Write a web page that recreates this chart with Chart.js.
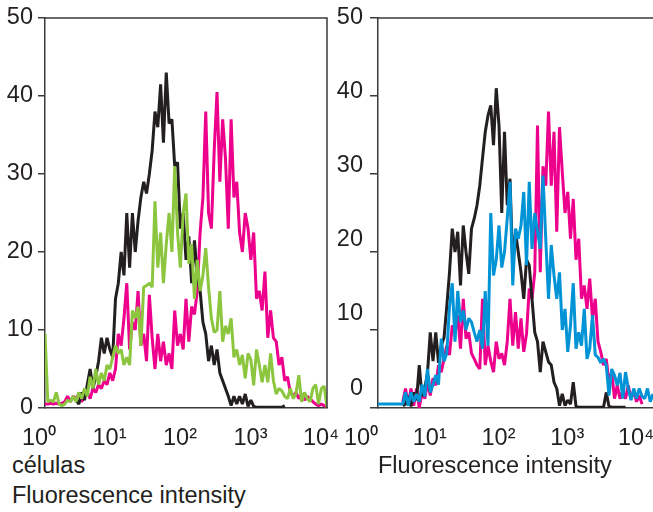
<!DOCTYPE html>
<html>
<head>
<meta charset="utf-8">
<script src="https://cdn.jsdelivr.net/npm/chart.js@4.4.1/dist/chart.umd.min.js"></script>
<style>
  html, body { margin: 0; padding: 0; background: #fff; }
  body { width: 653px; height: 512px; position: relative; overflow: hidden;
         font-family: "Liberation Sans", Arial, sans-serif; color: #231f20; }
  .panel { position: absolute; top: 0; height: 445px; }
  .caption { position: absolute; font-size: 23.5px; line-height: 30px; white-space: nowrap; }
</style>
</head>
<body>
<div class="panel" style="left:0;width:352px"><canvas id="leftChart"></canvas></div>
<div class="panel" style="left:330px;width:323px"><canvas id="rightChart"></canvas></div>
<div class="caption" style="left:12px;top:450px">células<br>Fluorescence intensity</div>
<div class="caption" style="left:378px;top:450px">Fluorescence intensity</div>
<script>
// x axis: 100 channels, 25 per decade (10^0 .. 10^4)
const decadeLabels = ['10\u2070', '10\u00b9', '10\u00b2', '10\u00b3', '10\u2074'];
const yTicks = [0, 10, 20, 30, 40, 50];

// left panel (counts per channel, first channel index in *Start)
const leftBlackStart = 11;
const leftBlack = [1, 0.5, 2, 1, 3, 5, 2.5, 4, 6, 9, 7, 9, 7.5, 6.5, 14, 16, 20, 17, 25, 18,
  25, 20, 24, 27, 29, 27.5, 30, 33, 38, 36, 41.5, 34, 43, 36.5, 37, 31, 31.5, 23, 25, 19,
  22, 16, 21.5, 17, 15, 11, 9.5, 6, 8, 5.5, 7.5, 4.5, 3.5, 2.5, 1.5, 0.3, 1.5, 0.5, 1.5, 0.5,
  1.8, 0.2, 1, 0.2, 0.1, 0.1, 0.1, 0.1, 0.1, 0.1, 0.1, 0.1, 0.1, 0.1, 0.3];
const leftPinkStart = 0;
const leftPink = [0.5, 0.5, 0.6, 0.5, 0.6, 0.5, 0.6, 0.8, 1.5, 0.8,
  1.5, 1.2, 1.8, 0.8, 1.5, 2, 1.2, 2.5, 2, 3,
  2.5, 3.5, 3, 4.5, 3.5, 5, 9.5, 8, 11.5, 16,
  7.5, 11, 10, 15, 8, 9.5, 6, 14.5, 9, 5,
  9.5, 6, 8.5, 5.5, 7, 5, 12.5, 8, 9.5, 7.5,
  14, 8.5, 13, 12, 15, 22.5, 27, 38, 25, 23,
  33, 40.5, 29, 37, 32, 23, 37, 27, 29, 22.5,
  20, 25, 23, 19, 22.5, 14, 15, 12.5, 17.5, 9,
  12.5, 9, 8.5, 5.5, 6.5, 3.5, 4, 2, 1.5, 2,
  1.2, 1.8, 1, 1.5, 1.2, 0.8, 0.5, 0.3, 0.5, 0.3, 0.2];
const leftGreenStart = 0;
const leftGreen = [9.5, 0.8, 1, 0.8, 2, 0.5, 0.3, 0.5, 1, 0.8,
  1.5, 0.8, 2, 1.2, 2.5, 1.5, 4, 2.5, 5, 3,
  4.5, 3.5, 5.5, 5, 6.5, 8, 7, 7.5, 5.5, 6.5,
  5.5, 12.5, 11.5, 13, 8, 15.5, 15.7, 16, 15.5, 26.5,
  18, 22.5, 16, 21, 25, 20, 31, 22.5, 18, 25,
  27.5, 18.5, 21, 14, 19, 15, 17, 20.5, 15.5, 11.5,
  9.7, 10, 15, 8.5, 10.5, 9.5, 11.5, 6.5, 7.5, 5.5,
  6.8, 3.8, 7, 6.2, 2.9, 7.5, 5.5, 3.3, 5.5, 3.3,
  7, 3.5, 1.8, 2.5, 2.2, 1.5, 1.2, 2.5, 1.2, 1.8,
  4.2, 0.8, 2, 1.2, 0.8, 2.5, 3, 0.5, 2.5, 2.8, 0.1];

// right panel
const rightBlackStart = 9;
const rightBlack = [0.3, 0.5, 1.5, 0.2, 2, 1, 5.5, 1.5, 2.5, 4.5,
  9.7, 6, 9.7, 5.8, 8, 9, 13, 17.4, 23, 20,
  22.6, 15.7, 23.4, 20, 17.2, 23, 24.3, 26, 28.5, 32,
  35.4, 37.5, 38.8, 33.7, 41, 36.2, 25, 35.4, 26, 29.4,
  18.3, 22.6, 20, 17.4, 14, 19, 18.3, 14, 9.7, 8.5,
  4.6, 8.5, 7.2, 5.9, 5.5, 3.3, 2.5, 0.3, 1.8, 0.3,
  1, 0.5, 3.3, 0.2, 0.1, 0.1, 0.1, 0.1, 0.1, 0.1,
  0.1, 0.1, 0.1, 0.1, 2, 0.2, 0.1, 0.1, 0.1, 0.1, 0.1, 0.1];
const rightPinkStart = 9;
const rightPink = [0.8, 2.5, 0.5, 2.5, 0.3, 2.5, 0, 2, 1.2, 3.3,
  1.6, 3.8, 2.9, 5.5, 4.6, 6.3, 8, 6.8, 10.6, 9.7,
  11.9, 7.6, 14, 8.9, 9.7, 7, 6.3, 5.5, 5, 14,
  5.5, 8, 6, 4.6, 8.5, 6.3, 7, 5.5, 8.5, 14,
  8, 12.3, 7.6, 11.5, 7.2, 9.5, 15.3, 14, 17.4, 36.2,
  17.4, 31, 28.5, 38, 28.5, 35.4, 22.6, 36, 30.3, 25,
  27.7, 21.7, 26.8, 19, 21.7, 14, 15.7, 12.7, 16.6, 11.5,
  14, 8.5, 7.2, 5.5, 6.3, 3.3, 4.6, 1.2, 2.9, 1.2,
  2.2, 1.2, 2.9, 1.2, 2.2, 0.8, 1.6, 0.5];
const rightBlueStart = 0;
const rightBlue = [0.5, 0.5, 0.5, 0.5, 0.5, 0.5, 0.5, 0.5, 0.5, 0.5,
  2, 0.3, 2, 0.8, 1.8, 0.8, 3, 1.5, 5, 2,
  3, 4.2, 3, 8.9, 6, 7, 13, 16, 8.5, 15,
  11, 12.5, 10, 11.5, 11, 9.7, 8.5, 10, 7.6, 15,
  8, 25, 17, 19, 23.4, 18, 20, 24.3, 29, 15.7,
  23, 21.7, 23.4, 27.7, 18.3, 29, 20.4, 25, 22.6, 20.4,
  29.8, 21.7, 14, 20.9, 17, 14, 17.4, 10, 12.7, 7.2,
  10.6, 16, 7.6, 9.7, 8, 12.7, 6.3, 7.6, 11.9, 6.8,
  6.5, 5.8, 6.3, 5.5, 1.6, 5, 4.2, 2.9, 4.5, 1.2,
  4.6, 2.5, 1, 2.5, 1.2, 2.5, 1.5, 1.2, 2.5, 0.8, 1.8];

const INK = '#231f20';
const AXIS = '#3a3a3a';
const FONT = { family: "'Liberation Sans', Arial, sans-serif", size: 23.5 };

function series(values, start, color) {
  return {
    data: values.map((v, k) => ({ x: start + k, y: v })),
    borderColor: color,
    borderWidth: 3,
    borderJoinStyle: 'bevel',
    pointRadius: 0,
    tension: 0,
    fill: false
  };
}

// fixed axis sizes so both plot areas land where the figure has them
function fixSize(w, h) {
  return s => {
    s.paddingLeft = s.paddingRight = s.paddingTop = s.paddingBottom = 0;
    if (w != null) s.width = w;
    if (h != null) s.height = h;
  };
}

// frame lines on top/right of the plot area
const framePlugin = {
  id: 'frame',
  afterDatasetsDraw(chart, args, opts) {
    const { ctx, chartArea: a } = chart;
    ctx.save();
    ctx.strokeStyle = AXIS;
    ctx.lineWidth = 1.5;
    ctx.beginPath();
    ctx.moveTo(a.left, a.top);
    ctx.lineTo(a.right, a.top);
    if (opts.right) ctx.lineTo(a.right, a.bottom);
    ctx.stroke();
    ctx.restore();
  }
};

function xAxis(labelOffset) {
  return {
    type: 'linear', min: 0, max: 100,
    grid: { display: false },
    border: { display: true, color: AXIS, width: 1.5 },
    ticks: {
      stepSize: 25, font: FONT, color: INK, padding: 8, labelOffset: labelOffset,
      maxRotation: 0, autoSkip: false,
      callback: v => decadeLabels[v / 25]
    },
    afterBuildTicks: s => { s.ticks = [0, 25, 50, 75, 100].map(v => ({ value: v })); },
    afterFit: fixSize(null, 37)
  };
}

function yGrid(len) {
  return { display: true, drawOnChartArea: false, drawTicks: true, tickLength: len,
           color: AXIS, lineWidth: 1.5 };
}

Chart.register(framePlugin);

new Chart(document.getElementById('leftChart'), {
  type: 'line',
  data: {
    datasets: [
      series(leftGreen, leftGreenStart, '#8cc63f'),
      series(leftBlack, leftBlackStart, INK),
      series(leftPink, leftPinkStart, '#ec008c')
    ]
  },
  options: {
    responsive: true, maintainAspectRatio: false, animation: false,
    layout: { padding: { top: 18, right: 25, left: 0, bottom: 0 } },
    plugins: { legend: { display: false }, tooltip: { enabled: false }, frame: { right: true } },
    scales: {
      x: xAxis(-6),
      y: {
        min: 0, max: 50,
        grid: yGrid(7),
        border: { display: true, color: AXIS, width: 1.5 },
        ticks: { stepSize: 10, font: FONT, color: INK, padding: 5 },
        afterBuildTicks: s => { s.ticks = yTicks.map(v => ({ value: v })); },
        afterFit: fixSize(45, null)
      }
    }
  }
});

new Chart(document.getElementById('rightChart'), {
  type: 'line',
  data: {
    datasets: [
      series(rightBlue, rightBlueStart, '#0093d6'),
      series(rightBlack, rightBlackStart, INK),
      series(rightPink, rightPinkStart, '#ec008c')
    ]
  },
  options: {
    responsive: true, maintainAspectRatio: false, animation: false,
    layout: { padding: { top: 18, right: 0, left: 0, bottom: 0 } },
    plugins: { legend: { display: false }, tooltip: { enabled: false }, frame: { right: false } },
    scales: {
      x: xAxis(-17),
      y: {
        min: 0, max: 50, weight: 0,
        grid: yGrid(8),
        border: { display: true, color: AXIS, width: 1.5 },
        ticks: { display: false, stepSize: 10 },
        afterBuildTicks: s => { s.ticks = yTicks.map(v => ({ value: v })); },
        afterFit: fixSize(0, null)
      },
      // the figure's labels on this panel sit on a slightly tighter spacing than its ticks
      yLabels: {
        type: 'linear', position: 'left', weight: 1,
        min: -2.7, max: 50,
        grid: { display: false, drawTicks: false },
        border: { display: false },
        ticks: { font: FONT, color: INK, padding: 15, includeBounds: false },
        afterBuildTicks: s => { s.ticks = yTicks.map(v => ({ value: v })); },
        afterFit: fixSize(48, null)
      }
    }
  }
});
</script>
</body>
</html>
